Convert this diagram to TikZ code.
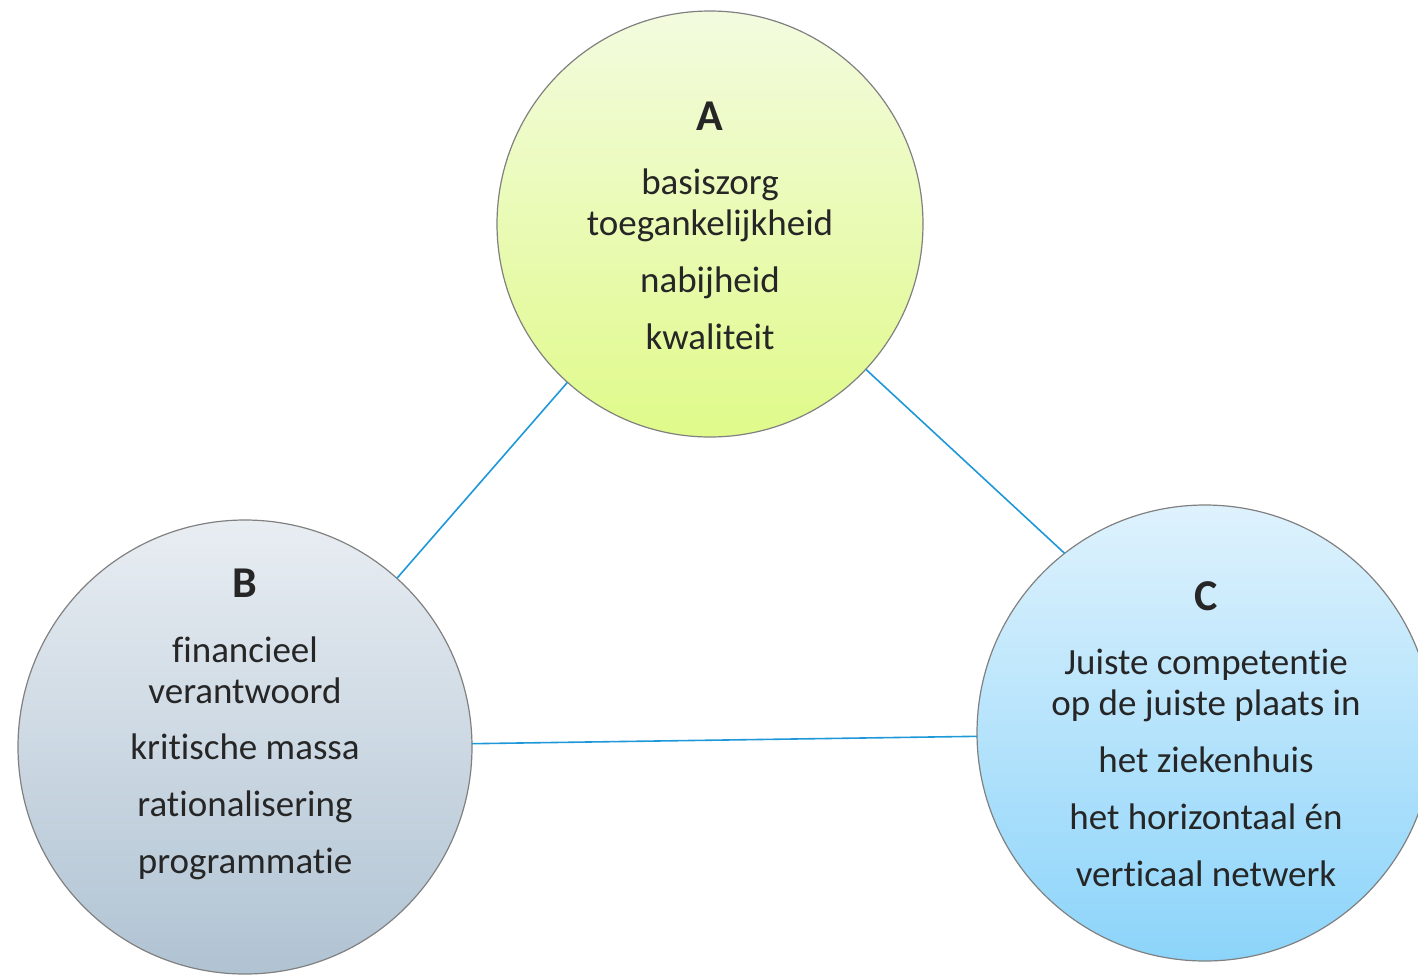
\documentclass[tikz,border=0pt]{standalone}
\usepackage{fontspec}
\setmainfont{Carlito}[Ligatures=NoCommon]
\definecolor{txt}{HTML}{262626}
\definecolor{edge}{HTML}{808080}
\definecolor{link}{HTML}{1E98D8}
\definecolor{Atop}{HTML}{F3FBDF}
\definecolor{Abot}{HTML}{E0FA8A}
\definecolor{Btop}{HTML}{E8EDF2}
\definecolor{Bbot}{HTML}{B0C3D3}
\definecolor{Ctop}{HTML}{DEF2FD}
\definecolor{Cbot}{HTML}{8CD4FA}
\begin{document}
\begin{tikzpicture}[x=1pt,y=-1pt,
  bubble/.style={circle,draw=edge,line width=1.2pt,inner sep=0pt,outer sep=0pt},
  ttl/.style={anchor=base,text=txt,font=\fontsize{44}{50}\selectfont\bfseries,inner sep=0pt},
  item/.style={anchor=base,text=txt,font=\fontsize{37}{44}\selectfont,inner sep=0pt},
  link/.style={draw=link,line width=1.6pt}]
\useasboundingbox (0,0) rectangle (1418,975);
\clip (0,0) rectangle (1418,975);
\node[bubble,minimum size=426pt,top color=Atop,bottom color=Abot] (A) at (710,224) {};
\node[bubble,minimum size=454pt,top color=Btop,bottom color=Bbot] (B) at (245,747) {};
\node[bubble,minimum size=456pt,top color=Ctop,bottom color=Cbot] (C) at (1205,733) {};
\draw[link] (A.-132) -- (B.48);
\draw[link] (A.-43) -- (C.128);
\draw[link] (B) -- (C);
% A
\node[ttl]  (a0) at (710,130) {A};
\node[item] (a1) at (710,194) {basiszorg};
\node[item] (a2) at (710,235) {toegankelijkheid};
\node[item] (a3) at (710,292) {nabijheid};
\node[item] (a4) at (710,349) {kwaliteit};
% B
\node[ttl]  (b0) at (245,597) {B};
\node[item] (b1) at (245,662) {financieel};
\node[item] (b2) at (245,703) {verantwoord};
\node[item] (b3) at (245,759) {kritische massa};
\node[item] (b4) at (245,816) {rationalisering};
\node[item] (b5) at (245,873) {programmatie};
% C
\node[ttl]  (c0) at (1206,610) {C};
\node[item] (c1) at (1206,674) {Juiste competentie};
\node[item] (c2) at (1206,715) {op de juiste plaats in};
\node[item] (c3) at (1206,772) {het ziekenhuis};
\node[item] (c4) at (1206,829) {het horizontaal én};
\node[item] (c5) at (1206,886) {verticaal netwerk};
\end{tikzpicture}
\end{document}
